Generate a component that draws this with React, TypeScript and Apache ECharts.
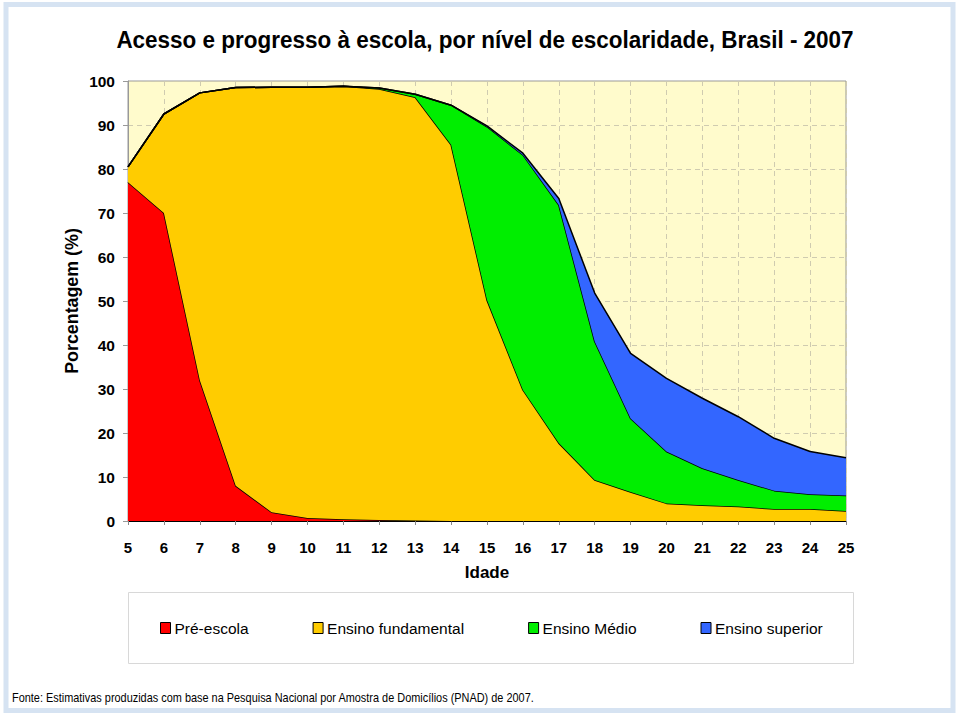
import React, { useEffect, useRef } from "react";
import * as echarts from "echarts";

const ages = ["5","6","7","8","9","10","11","12","13","14","15","16","17","18","19","20","21","22","23","24","25"];
const seriesNames = ["Pré-escola", "Ensino fundamental", "Ensino Médio", "Ensino superior"];
const preEscola = [77, 70, 32, 8, 2, 0.7, 0.4, 0.2, 0.1, 0, 0, 0, 0, 0, 0, 0, 0, 0, 0, 0, 0];
const fundamental = [3.5, 22.5, 65.3, 90.5, 96.6, 97.9, 98.4, 98.0, 96.2, 85.5, 50.2, 29.8, 17.7, 9.3, 6.6, 4.0, 3.6, 3.3, 2.7, 2.7, 2.3];
const medio = [0, 0, 0, 0, 0, 0, 0, 0.2, 0.7, 9.0, 39.4, 53.4, 54.1, 31.5, 16.7, 11.8, 8.4, 6.0, 4.2, 3.4, 3.5];
const superior = [0, 0, 0, 0, 0, 0, 0, 0, 0, 0, 0.2, 0.4, 1.5, 11.0, 14.8, 16.6, 15.9, 14.4, 11.9, 9.7, 8.6];
const yTicks = [0, 10, 20, 30, 40, 50, 60, 70, 80, 90, 100];
const colors = ["#FF0000", "#FFCC00", "#00EE00", "#3366FF"];

const title = "Acesso e progresso à escola, por nível de escolaridade, Brasil - 2007";
const yName = "Porcentagem (%)";
const footer = "Fonte: Estimativas produzidas com base na Pesquisa Nacional por Amostra de Domicílios (PNAD) de 2007.";

export default function App() {
  const ref = useRef<HTMLDivElement>(null);
  useEffect(() => {
    if (!ref.current) return;
    const chart = echarts.init(ref.current, null, { renderer: "svg" });
    const data = [preEscola, fundamental, medio, superior];
    const font = "Liberation Sans, Arial, sans-serif";
    chart.setOption({
      animation: false,
      backgroundColor: "#ffffff",
      textStyle: { fontFamily: font },
      grid: { left: 128, right: 114, top: 81, bottom: 195, show: true, backgroundColor: "#FFFBCC", borderColor: "#999", borderWidth: 1 },
      legend: {
        data: seriesNames,
        left: 160,
        top: 620,
        padding: 0,
        itemGap: 64,
        itemWidth: 10,
        itemHeight: 11,
        icon: "rect",
        itemStyle: { borderColor: "#000", borderWidth: 1 },
        textStyle: { fontSize: 15.5, color: "#000", padding: [0, 0, 0, -1] },
      },
      xAxis: {
        type: "category",
        data: ages,
        boundaryGap: false,
        name: "Idade",
        nameLocation: "middle",
        nameGap: 43,
        nameTextStyle: { fontSize: 17, fontWeight: "bold", color: "#000" },
        axisLine: { lineStyle: { color: "#000", width: 1 } },
        axisTick: { show: true, length: 4, lineStyle: { color: "#888" } },
        axisLabel: { fontSize: 15, fontWeight: "bold", color: "#000", margin: 19 },
        splitLine: { show: true, lineStyle: { color: "#CFCBB0", type: [5, 4] } },
      },
      yAxis: {
        type: "value",
        min: yTicks[0],
        max: yTicks[yTicks.length - 1],
        interval: 10,
        axisLine: { show: true, lineStyle: { color: "#999", width: 1 } },
        axisTick: { show: true, length: 5, lineStyle: { color: "#999" } },
        axisLabel: { fontSize: 15.5, fontWeight: "bold", color: "#000", margin: 13 },
        splitLine: { show: true, lineStyle: { color: "#CFCBB0", type: [5, 4] } },
      },
      series: data.map((d, i) => ({
        name: seriesNames[i],
        type: "line",
        stack: "total",
        data: d,
        showSymbol: false,
        symbol: "none",
        color: colors[i],
        itemStyle: { color: colors[i] },
        lineStyle: { color: "#000", width: 1.5 },
        areaStyle: { color: colors[i], opacity: 1 },
        z: 2 + i,
      })),
      graphic: [
        { type: "rect", shape: { x: 6, y: 4.5, width: 947, height: 706 }, style: { fill: "none", stroke: "#D6E3F2", lineWidth: 5 }, silent: true },
        { type: "rect", shape: { x: 128.5, y: 592.5, width: 725, height: 71 }, style: { fill: "none", stroke: "#D8D8D8", lineWidth: 1 }, silent: true },
        { type: "text", x: 485, y: 40, scaleX: 0.937, style: { text: title, fontSize: 24, fontWeight: "bold", fill: "#000", fontFamily: font, textAlign: "center", textVerticalAlign: "middle" }, silent: true },
        { type: "text", x: 72, y: 301, rotation: Math.PI / 2, scaleX: 1.02, style: { text: yName, fontSize: 17.5, fontWeight: "bold", fill: "#000", fontFamily: font, textAlign: "center", textVerticalAlign: "middle" }, silent: true },
        { type: "text", x: 12, y: 698, scaleX: 0.84, style: { text: footer, fontSize: 13, fill: "#000", fontFamily: font, textAlign: "left", textVerticalAlign: "middle" }, silent: true },
      ],
    });
    return () => chart.dispose();
  }, []);
  return (
    <div style={{ position: "absolute", left: 0, top: 0, width: 960, height: 716 }}>
      <div ref={ref} style={{ width: 960, height: 716 }} />
    </div>
  );
}
